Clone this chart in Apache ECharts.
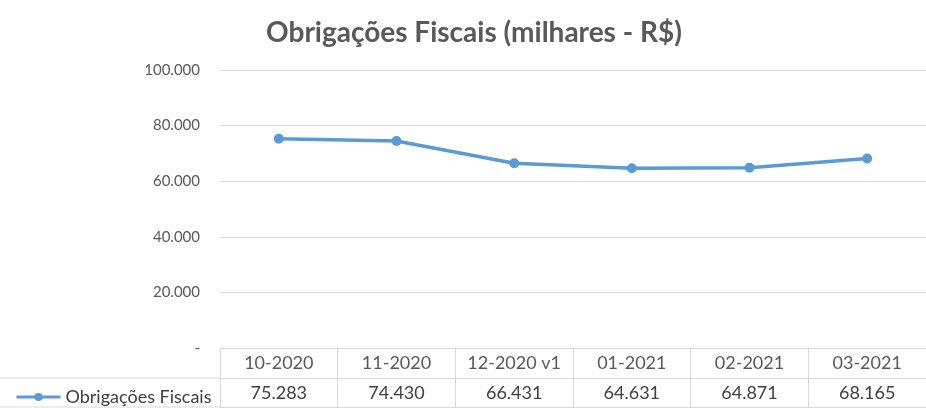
<!DOCTYPE html>
<html>
<head>
<meta charset="utf-8">
<script src="https://cdn.jsdelivr.net/npm/echarts@6/dist/echarts.min.js"></script>
<style>
  html, body { margin: 0; padding: 0; background: #fff; }
  #chart { width: 926px; height: 408px; }
</style>
</head>
<body>
<div id="chart"></div>
<script>
const seriesName = 'Obrigações Fiscais'
const categories = ['10-2020', '11-2020', '12-2020 v1', '01-2021', '02-2021', '03-2021']
const values = [75283, 74430, 66431, 64631, 64871, 68165]
const yMin = 0
const yMax = 100000
const yStep = 20000

// 75283 -> "75.283"
function fmt(v) {
  return String(v).replace(/\B(?=(\d{3})+(?!\d))/g, '.')
}

const font = 'Lato, "Open Sans", sans-serif'
const borderColor = '#d9d9d9'

let chart = echarts.init(document.getElementById('chart'))
let option = {
  animation: false,
  title: {
    text: 'Obrigações Fiscais (milhares - R$)',
    left: 469,
    textAlign: 'center',
    top: 14,
    textStyle: {
      fontFamily: font,
      fontSize: 28,
      fontWeight: 'bold',
      color: '#595959'
    }
  },
  legend: {
    left: 10,
    top: 383,
    itemWidth: 44,
    itemHeight: 10,
    lineStyle: { width: 3 },
    textStyle: {
      fontFamily: font,
      fontSize: 18,
      color: '#404040'
    },
    data: [seriesName]
  },
  grid: {
    left: 220,
    top: 70,
    width: 726,
    height: 278
  },
  xAxis: [
    {
      type: 'category',
      data: categories,
      boundaryGap: true,
      position: 'bottom',
      axisLine: { lineStyle: { color: borderColor } },
      axisTick: {
        show: true,
        interval: 0,
        length: 60,
        lineStyle: { color: borderColor }
      },
      axisLabel: {
        interval: 0,
        margin: 6,
        fontFamily: font,
        fontSize: 18,
        color: '#595959'
      }
    },
    {
      type: 'category',
      data: values.map(fmt),
      position: 'bottom',
      offset: 30,
      axisLine: { show: true, lineStyle: { color: borderColor } },
      axisTick: { show: false },
      axisLabel: {
        interval: 0,
        margin: 6,
        fontFamily: font,
        fontSize: 18,
        color: '#404040'
      }
    },
    {
      type: 'category',
      data: categories,
      position: 'bottom',
      offset: 59,
      axisLine: { show: true, lineStyle: { color: borderColor } },
      axisTick: { show: false },
      axisLabel: { show: false }
    }
  ],
  yAxis: {
    type: 'value',
    min: yMin,
    max: yMax,
    interval: yStep,
    axisLine: { show: false },
    axisTick: { show: false },
    axisLabel: {
      margin: 20,
      fontFamily: font,
      fontSize: 15,
      color: '#595959',
      formatter: function (v) {
        return v === 0 ? '-' : fmt(v)
      }
    },
    splitLine: { lineStyle: { color: borderColor } }
  },
  graphic: [
    {
      type: 'line',
      shape: { x1: 0, y1: 378, x2: 220, y2: 378 },
      style: { stroke: borderColor, lineWidth: 1 }
    },
    {
      type: 'line',
      shape: { x1: 0, y1: 407, x2: 220, y2: 407 },
      style: { stroke: borderColor, lineWidth: 1 }
    }
  ],
  series: [
    {
      name: seriesName,
      type: 'line',
      data: values,
      xAxisIndex: 0,
      symbol: 'circle',
      symbolSize: 10,
      lineStyle: { color: '#5b9bd5', width: 3.5 },
      itemStyle: { color: '#5b9bd5' }
    }
  ]
}
chart.setOption(option)
</script>
</body>
</html>
